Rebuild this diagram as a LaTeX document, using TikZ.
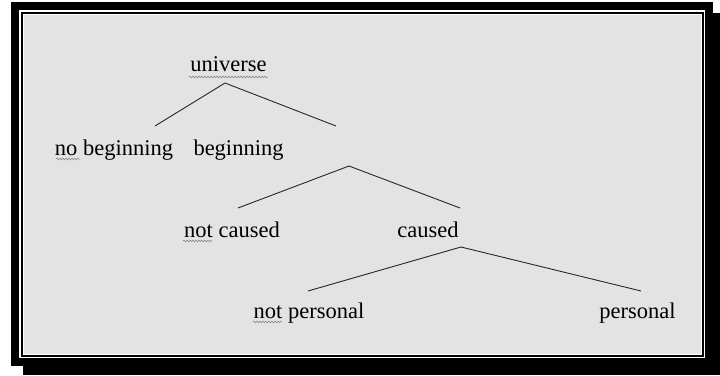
\documentclass[tikz,border=0pt]{standalone}
\usepackage{fontspec}
\setmainfont{Liberation Serif}
\usetikzlibrary{decorations.pathmorphing}
\definecolor{panelgray}{RGB}{227,227,227}

\begin{document}
\begin{tikzpicture}[x=1pt,y=-1pt,
  word/.style={inner sep=0pt, anchor=base, font=\fontsize{22.5}{26}\selectfont},
  branch/.style={black!85, line width=0.9pt, line join=round},
  squiggle/.style={black!50, line width=0.5pt, decorate, decoration={snake, amplitude=0.9pt, segment length=3pt}}]
\useasboundingbox (0,0) rectangle (720,375);
% frame with shadow
\fill[black] (23,13) rectangle (720,375);
\fill[black] (11,2) rectangle (713,366);
\fill[white] (19,10) rectangle (705,358);
\draw[black, line width=1.6pt] (22,13) rectangle (703,356);
\fill[panelgray] (24,15) rectangle (701,354);
% labels
\node[word] (universe) at (228.5,71) {universe};
\node[word] (nobeg) at (114,155) {no beginning};
\node[word] (beg) at (238.5,155) {beginning};
\node[word] (notcaused) at (232,237) {not caused};
\node[word] (caused) at (428,237) {caused};
\node[word] (notpers) at (309,318) {not personal};
\node[word] (pers) at (637.5,318) {personal};
% branch points
\coordinate (top1) at (225,83);
\coordinate (left1) at (155,126);
\coordinate (right1) at (336,126);
\coordinate (top2) at (349,166);
\coordinate (left2) at (238,208);
\coordinate (right2) at (460,208);
\coordinate (top3) at (461,247);
\coordinate (left3) at (308,291);
\coordinate (right3) at (641,291);
\draw[branch] (left1) -- (top1) -- (right1);
\draw[branch] (left2) -- (top2) -- (right2);
\draw[branch] (left3) -- (top3) -- (right3);
% spelling marks
\draw[squiggle] (189,77) -- (268,77);
\draw[squiggle] (56,159) -- (80,159);
\draw[squiggle] (183,241) -- (212,241);
\draw[squiggle] (253,322) -- (282,322);
\end{tikzpicture}
\end{document}
